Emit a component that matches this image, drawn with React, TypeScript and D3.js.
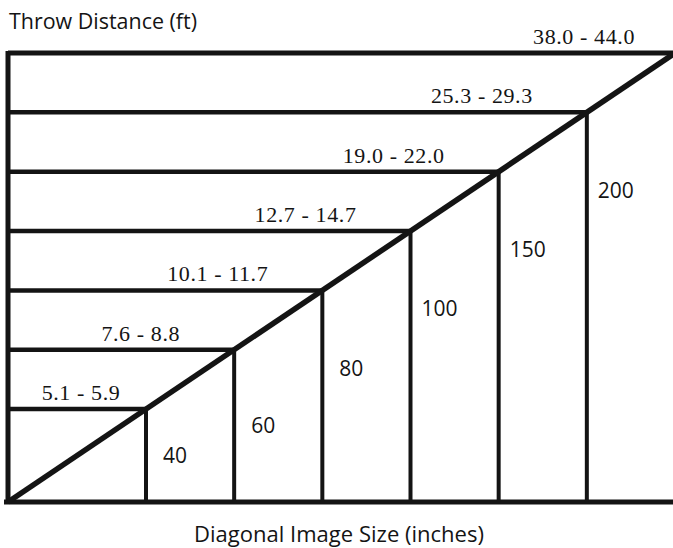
import React from "react";
import { scalePoint, scaleLinear, line } from "d3";

// diagonal image sizes (inches), left to right
const sizes = ["40", "60", "80", "100", "150", "200"];
// throw distance ranges (ft), bottom to top; last one sits on the top edge
const throws = [
  "5.1 - 5.9",
  "7.6 - 8.8",
  "10.1 - 11.7",
  "12.7 - 14.7",
  "19.0 - 22.0",
  "25.3 - 29.3",
  "38.0 - 44.0",
];
const yTitle = "Throw Distance (ft)";
const xTitle = "Diagonal Image Size (inches)";

const W = 673;
const H = 548;
const left = 8;
const top = 53;
const bottom = 502;
const ink = "#141414";

export default function App() {
  // columns: one per size plus the far corner
  const x = scalePoint<string>()
    .domain([...sizes, "corner"])
    .range([146, 675]);
  // the diagonal maps a column position to its row height
  const diag = scaleLinear().domain([left, 675]).range([bottom, top]);

  const cols = sizes.map((s) => {
    const cx = x(s) as number;
    return { s, cx, cy: diag(cx) };
  });
  const cornerX = x("corner") as number;

  const diagPath = line()([
    [left, bottom],
    [cornerX, diag(cornerX)],
  ]) as string;

  return (
    <svg
      width={W}
      height={H}
      style={{ position: "absolute", left: 0, top: 0, background: "#fff" }}
    >
      <text
        x={9}
        y={29}
        fontFamily="Open Sans"
        fontSize={21.5}
        fill={ink}
        textLength={188}
        lengthAdjust="spacingAndGlyphs"
      >
        {yTitle}
      </text>

      {/* frame */}
      <line x1={left} x2={W} y1={top} y2={top} stroke={ink} strokeWidth={5} />
      <line x1={left} x2={left} y1={top - 2} y2={bottom} stroke={ink} strokeWidth={5} />
      <line x1={4} x2={W} y1={bottom} y2={bottom} stroke={ink} strokeWidth={5} />

      {/* rows and columns meeting on the diagonal */}
      {cols.map((c) => (
        <g key={c.s}>
          <line x1={left} x2={c.cx} y1={c.cy} y2={c.cy} stroke={ink} strokeWidth={4.5} />
          <line x1={c.cx} x2={c.cx} y1={c.cy} y2={bottom} stroke={ink} strokeWidth={4} />
        </g>
      ))}
      <path d={diagPath} stroke={ink} strokeWidth={5.5} fill="none" />

      {/* throw distance labels */}
      {throws.map((t, i) => {
        const isTop = i === throws.length - 1;
        const vx = isTop ? cornerX : cols[i].cx;
        const vy = isTop ? top : cols[i].cy;
        const first = i === 0;
        return (
          <text
            key={t}
            x={first ? (left + vx) / 2 + 4 : isTop ? vx - 40 : vx - 54}
            y={vy - 9}
            textAnchor={first ? "middle" : "end"}
            fontFamily="Liberation Serif"
            fontSize={22}
            letterSpacing={0.6}
            fill={ink}
          >
            {t}
          </text>
        );
      })}

      {/* size labels */}
      {cols.map((c) => (
        <text
          key={"l" + c.s}
          x={c.cx + 29}
          y={Math.min(c.cy + 78, (c.cy + bottom) / 2)}
          dy="0.35em"
          textAnchor="middle"
          fontFamily="Open Sans"
          fontSize={21}
          fill={ink}
        >
          {c.s}
        </text>
      ))}

      <text
        x={339}
        y={542}
        textAnchor="middle"
        fontFamily="Open Sans"
        fontSize={21.5}
        fill={ink}
        textLength={290}
        lengthAdjust="spacingAndGlyphs"
      >
        {xTitle}
      </text>
    </svg>
  );
}
